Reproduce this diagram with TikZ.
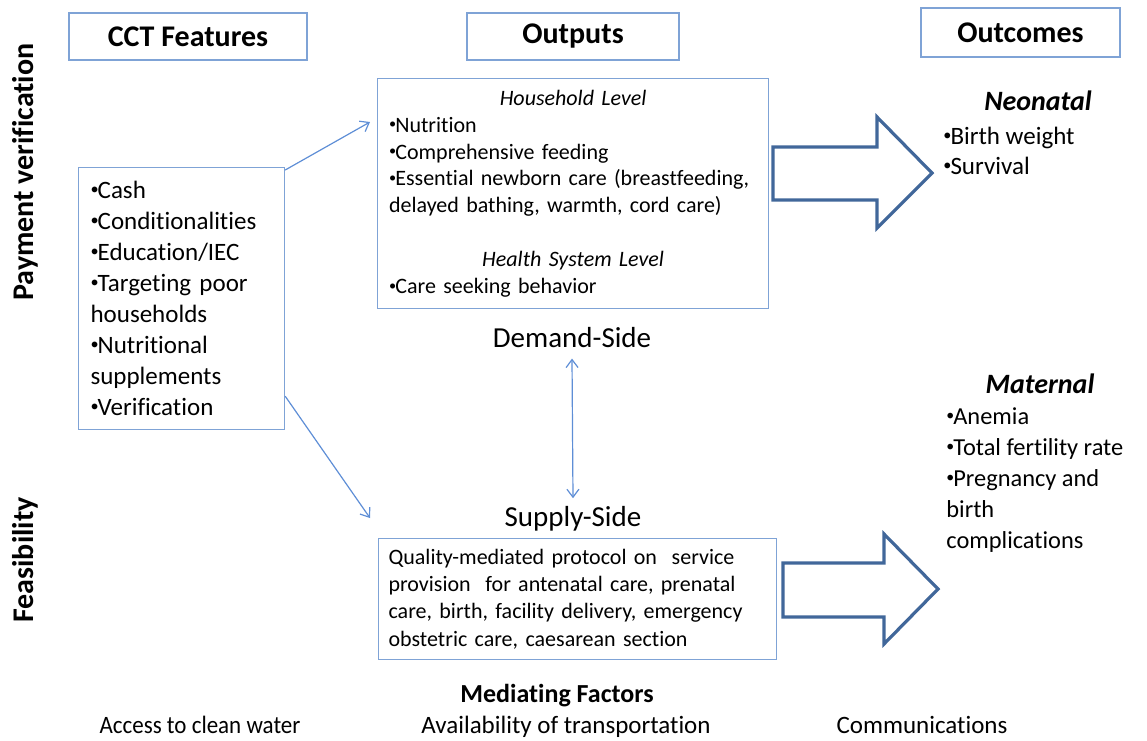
\documentclass[tikz,border=0pt]{standalone}
\usepackage{fontspec}
\setmainfont{Carlito}[Ligatures=NoCommon]
\usetikzlibrary{positioning,arrows.meta}
\definecolor{boxblue}{HTML}{7FA3D6}
\definecolor{lineblue}{HTML}{5E8ED6}
\definecolor{arrowblue}{HTML}{41679A}
\newcommand\bul{\raisebox{0.15em}{\scalebox{0.65}{•}}\kern-0.04em}

\begin{document}
\begin{tikzpicture}[x=0.5pt,y=-0.5pt,
  hdr/.style={draw=boxblue,line width=0.8pt,minimum height=23.5pt,inner sep=0pt,
    font=\fontsize{15}{17}\selectfont\bfseries},
  listbox/.style={draw=boxblue,line width=0.6pt,anchor=north west,inner ysep=0pt,
    align=left},
  plain/.style={inner sep=0pt,font=\fontsize{12.5}{15.5}\selectfont},
  side/.style={inner sep=0pt,font=\fontsize{14.5}{16}\selectfont},
  flow/.style={draw=lineblue,line width=0.6pt,-{Straight Barb[length=4pt,width=6pt]}},
  blockarrow/.style={draw=arrowblue,line width=1.6pt,line join=miter,fill=white}]
\useasboundingbox (0,0) rectangle (1147,740);
% column headings
\node[hdr,minimum width=119pt] (cct) at (188,36.5) {CCT Features};
\node[hdr,minimum width=106pt] (outp) at (573,36.5) {Outputs};
\node[hdr,minimum width=99.5pt,minimum height=24.5pt] (outc) at (1020.5,32.5) {Outcomes};
% side labels
\node[plain,rotate=90,font=\fontsize{15}{17}\selectfont\bfseries] (payver) at (25,172) {Payment verification};
\node[plain,rotate=90,font=\fontsize{15}{17}\selectfont\bfseries] (feas) at (25,560) {Feasibility};
% CCT features
\node[listbox,minimum width=103pt,minimum height=131pt,text width=91pt,inner xsep=6pt,
  font=\fontsize{12.5}{15.5}\selectfont] (feat) at (78,167)
  {\bul Cash\\\bul Conditionalities\\\bul Education/IEC\\\bul Targeting poor\\households\\\bul Nutritional\\supplements\\\bul Verification};
% outputs
\node[listbox,minimum width=195.5pt,minimum height=115pt,text width=184pt,inner xsep=5.5pt,
  font=\fontsize{11}{13.45}\selectfont] (house) at (377,78)
  {{\centering\itshape Household Level\par}\bul Nutrition\\\bul Comprehensive feeding\\\bul Essential newborn care (breastfeeding,\\delayed bathing, warmth, cord care)\par
   \vspace{\baselineskip}{\centering\itshape Health System Level\par}\bul Care seeking behavior};
\node[side] (demand) at (572,338) {Demand-Side};
\node[side] (supply) at (573,519) {Supply-Side};
\node[listbox,minimum width=199pt,minimum height=60.5pt,text width=189pt,inner xsep=5pt,
  font=\fontsize{11}{13.6}\selectfont] (care) at (378,538)
  {Quality-mediated protocol on\ \ service\\provision\ \ for antenatal care, prenatal\\care, birth, facility delivery, emergency\\obstetric care, caesarean section};
% connectors
\coordinate (hhin) at (370,122);
\coordinate (ssin) at (370,518);
\draw[flow] ([yshift=-1.5pt]feat.north east) -- (hhin);
\draw[flow] ([yshift=17pt]feat.south east) -- (ssin);
\draw[flow,{Straight Barb[length=4pt,width=6pt]}-{Straight Barb[length=4pt,width=6pt]}]
  ([yshift=-5pt]demand.south) -- ([yshift=4pt]supply.north);
% block arrows
\draw[blockarrow] (773,147) -- (877,147) -- (877,117) -- (932,173) -- (877,228) -- (877,200) -- (773,200) -- cycle;
\draw[blockarrow] (783,563) -- (884,563) -- (884,534) -- (938,589) -- (884,644) -- (884,617) -- (783,617) -- cycle;
% outcomes
\node[side,font=\fontsize{14}{16}\selectfont\bfseries\itshape] (neo) at (1038,101) {Neonatal};
\node[plain,anchor=west,align=left,font=\fontsize{12.5}{15}\selectfont] (neolist) at (943,151)
  {\bul Birth weight\\\bul Survival};
\node[side,font=\fontsize{14}{16}\selectfont\bfseries\itshape] (mat) at (1040,384) {Maternal};
\node[plain,anchor=west,align=left,font=\fontsize{12.2}{15.5}\selectfont] (matlist) at (946,480)
  {\bul Anemia\\\bul Total fertility rate\\\bul Pregnancy and\\birth\\complications};
% mediating factors
\node[plain,anchor=base,font=\fontsize{13}{15}\selectfont\bfseries] (medf) at (557,702) {Mediating Factors};
\node[plain,anchor=base] (water) at (200,733) {\scalebox{0.92}[1]{Access to clean water}};
\node[plain,anchor=base] (trans) at (566,733) {Availability of transportation};
\node[plain,anchor=base] (comm) at (922,733) {Communications};
\end{tikzpicture}
\end{document}
